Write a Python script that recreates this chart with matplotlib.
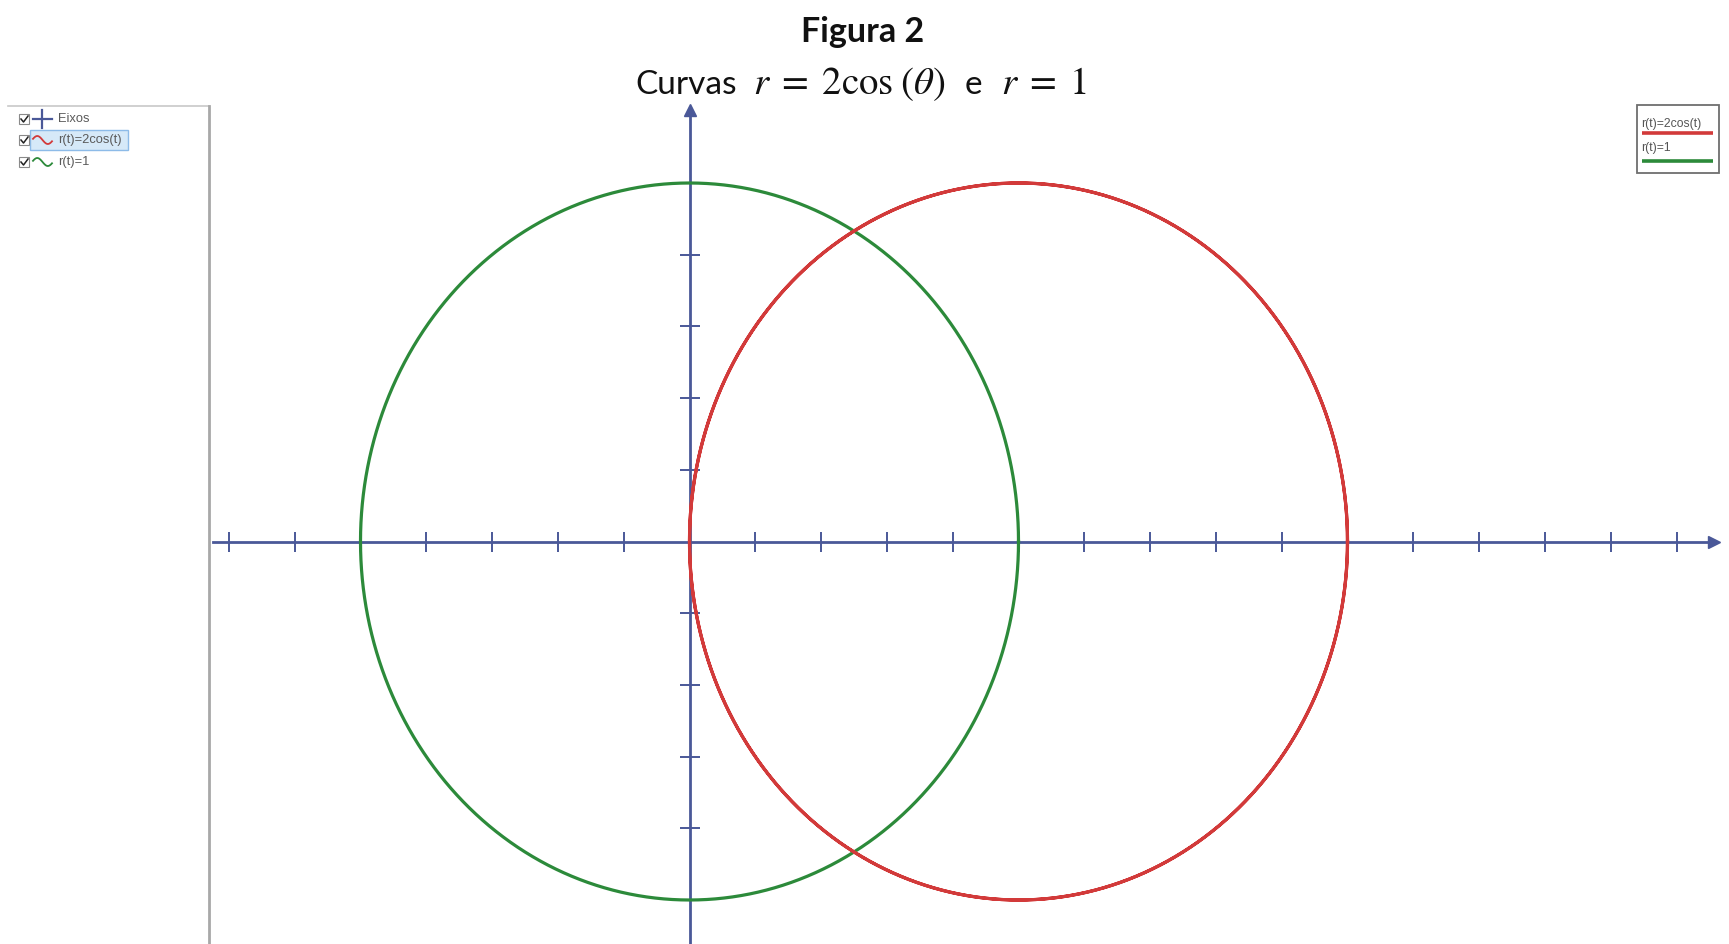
import numpy as np
import matplotlib
matplotlib.use("Agg")
import matplotlib.pyplot as plt
from matplotlib.patches import Rectangle

# ---- data ----
theta = np.linspace(0, 2 * np.pi, 1441)
r_red = 2 * np.cos(theta)          # r = 2cos(theta)
r_green = np.ones_like(theta)      # r = 1
x_ticks = [-1.4, -1.2, -1.0, -0.8, -0.6, -0.4, -0.2,
           0.2, 0.4, 0.6, 0.8, 1.0, 1.2, 1.4, 1.6, 1.8, 2.0,
           2.2, 2.4, 2.6, 2.8, 3.0]
y_ticks = [-1.0, -0.8, -0.6, -0.4, -0.2, 0.2, 0.4, 0.6, 0.8, 1.0]
panel_items = ["Eixos", "r(t)=2cos(t)", "r(t)=1"]
legend_items = ["r(t)=2cos(t)", "r(t)=1"]

# ---- style ----
W, H = 1729, 944
AXIS_C = "#4a5898"
RED = "#d23a3a"
GREEN = "#2c8a3a"
plt.rcParams["mathtext.fontset"] = "stix"

fig = plt.figure(figsize=(W / 100, H / 100), dpi=100)
fig.patch.set_facecolor("white")

# pixel mapping: origin at (689.5, 541.5), unit x=329 px, unit y=358.5 px
ox, oy, ux, uy = 689.5, 541.5, 329.0, 358.5
ax = fig.add_axes([0, 0, 1, 1])
ax.set_xlim(-ox / ux, (W - ox) / ux)
ax.set_ylim((oy - H) / uy, oy / uy)
ax.patch.set_visible(False)
for s in ["top", "right"]:
    ax.spines[s].set_visible(False)
ax.spines["bottom"].set_position(("data", 0))
ax.spines["left"].set_position(("data", 0))
ax.spines["bottom"].set_bounds(-1.448, 3.11)
ax.spines["left"].set_bounds(-1.3, 1.20)
for s in ["bottom", "left"]:
    ax.spines[s].set_color(AXIS_C)
    ax.spines[s].set_linewidth(2.0)
ax.set_xticks(x_ticks)
ax.set_yticks(y_ticks)
ax.set_xticklabels([])
ax.set_yticklabels([])
ax.tick_params(direction="inout", length=15, width=1.4, color=AXIS_C)
# arrow heads
ax.plot([3.115], [0], marker=">", ms=8, color=AXIS_C, clip_on=False, zorder=3)
ax.plot([0], [1.205], marker="^", ms=8, color=AXIS_C, clip_on=False, zorder=3)

# curves
ax.plot(r_green * np.cos(theta), r_green * np.sin(theta), color=GREEN, lw=2.3, zorder=4)
ax.plot(r_red * np.cos(theta), r_red * np.sin(theta), color=RED, lw=2.3, zorder=4)

# ---- titles ----
def fx(px):
    return px / W


def fy(py):
    return 1 - py / H


fig.text(fx(863), fy(42), "Figura 2", ha="center", va="baseline",
         fontsize=24.5, fontweight="bold", family="Lato", color="#111111")
base2 = fy(94)
fig.text(fx(737), base2, "Curvas", ha="right", va="baseline",
         fontsize=24, family="Lato", color="#111111")
fig.text(fx(753), base2, r"$r\;=\;2\mathrm{cos}\;(\theta)$", ha="left", va="baseline",
         fontsize=28, color="#111111")
fig.text(fx(965), base2, "e", ha="left", va="baseline",
         fontsize=24, family="Lato", color="#111111")
fig.text(fx(1001), base2, r"$r\;=\;1$", ha="left", va="baseline",
         fontsize=28, color="#111111")

# ---- UI overlay in pixel coordinates ----
ov = fig.add_axes([0, 0, 1, 1], zorder=5)
ov.set_xlim(0, W)
ov.set_ylim(H, 0)
ov.axis("off")
ov.patch.set_visible(False)

# left panel
ov.plot([8, 209], [106, 106], color="#c8c8c8", lw=1.2)
ov.plot([209, 209], [106, H], color="#a8a8a8", lw=2.0)

rows_y = [119, 140, 162]
# highlight of second row
ov.add_patch(Rectangle((30, 130), 98, 20, facecolor="#d6e9f8", edgecolor="#8dbbe8", lw=1.0))
for i, (lab, yy) in enumerate(zip(panel_items, rows_y)):
    # checkbox
    ov.add_patch(Rectangle((19, yy - 5), 10, 10, facecolor="white", edgecolor="#8a8a8a", lw=0.8))
    ov.plot([21, 23.5, 28], [yy, yy + 3, yy - 3], color="#222222", lw=1.1)
    # icon
    if i == 0:
        ov.plot([33, 52], [yy, yy], color=AXIS_C, lw=1.6)
        ov.plot([42.5, 42.5], [yy - 9, yy + 9], color=AXIS_C, lw=1.6)
    else:
        c = RED if i == 1 else GREEN
        t = np.linspace(0, 1, 30)
        ov.plot(33 + 19 * t, yy - 4 * np.sin(2 * np.pi * t * 0.9 + 0.3), color=c, lw=1.3)
    ov.text(58, yy, lab, ha="left", va="center", fontsize=9.3,
            family="Liberation Sans", color="#5a5a5a")

# right legend
ov.add_patch(Rectangle((1637, 105), 82, 68, facecolor="white", edgecolor="#6e6e6e", lw=1.3))
leg_colors = [RED, GREEN]
for lab, c, ty, ly in zip(legend_items, leg_colors, [124, 148], [133, 161]):
    ov.text(1641, ty, lab, ha="left", va="center", fontsize=8.8,
            family="Liberation Sans", color="#555555")
    ov.plot([1642, 1713], [ly, ly], color=c, lw=2.6, solid_capstyle="butt")

fig.savefig("out.png", dpi=100, facecolor="white")
